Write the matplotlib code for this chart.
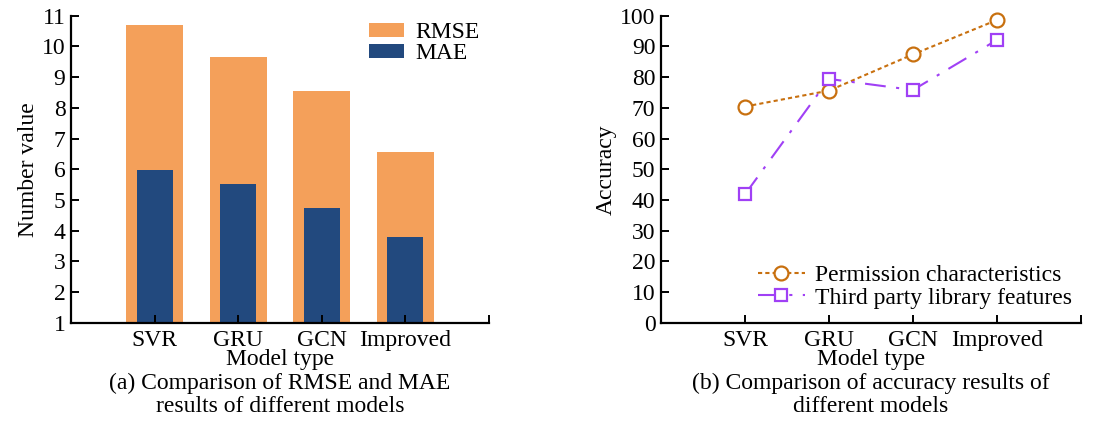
import matplotlib.pyplot as plt

plt.rcParams['font.family'] = ['Liberation Serif', 'DejaVu Serif']
plt.rcParams['font.size'] = 17

models = ['SVR', 'GRU', 'GCN', 'Improved']
rmse = [10.70, 9.65, 8.55, 6.56]
mae = [5.98, 5.51, 4.75, 3.78]
perm_acc = [70.4, 75.6, 87.4, 98.6]
third_acc = [41.8, 79.4, 75.8, 92.1]

fig = plt.figure(figsize=(11.15, 4.22), dpi=100)
ax1 = fig.add_axes([0.0637, 0.2353, 0.3749, 0.7275])
ax2 = fig.add_axes([0.5928, 0.2353, 0.3767, 0.7275])

x = list(range(len(models)))

# (a) bars
ax1.bar(x, [v - 1 for v in rmse], bottom=1, width=0.68, color='#F4A05A', label='RMSE')
ax1.bar(x, [v - 1 for v in mae], bottom=1, width=0.43, color='#22497E', label='MAE')
ax1.set_ylim(1, 11)
ax1.set_yticks(range(1, 12))
ax1.set_ylabel('Number value', labelpad=2)
ax1.legend(loc='upper right', frameon=False, handlelength=1.45, handleheight=0.55,
           borderaxespad=0.0, labelspacing=0.0, handletextpad=0.5,
           bbox_to_anchor=(1.0, 1.01))

# (b) lines
ax2.plot(x, perm_acc, color='#C8700F', linestyle=(0, (2, 1.5)), lw=1.5,
         marker='o', ms=10, mfc='white', mec='#C8700F', mew=1.6, clip_on=False,
         label='Permission characteristics')
ax2.plot(x, third_acc, color='#A040F5', linestyle=(0, (10, 5, 1.5, 5)), lw=1.5,
         marker='s', ms=9, mfc='white', mec='#A040F5', mew=1.6, clip_on=False,
         label='Third party library features')
ax2.set_ylim(0, 100)
ax2.set_yticks(range(0, 101, 10))
ax2.set_ylabel('Accuracy', labelpad=2)
ax2.legend(loc='lower right', frameon=False, handlelength=2.0,
           borderaxespad=0.0, labelspacing=0.05, handletextpad=0.4,
           bbox_to_anchor=(1.0, 0.015))

captions = ['(a) Comparison of RMSE and MAE\nresults of different models',
            '(b) Comparison of accuracy results of\ndifferent models']
for ax, cap in zip([ax1, ax2], captions):
    ax.set_xlim(-1, 4)
    ax.set_xticks([-1] + x + [4])
    ax.set_xticklabels([''] + models + [''])
    ax.set_xlabel('Model type\n' + cap, linespacing=1.15, labelpad=-1)
    for s in ['top', 'right']:
        ax.spines[s].set_visible(False)
    for s in ['left', 'bottom']:
        ax.spines[s].set_linewidth(1.6)
    ax.tick_params(direction='in', length=6, width=1.4, pad=4)
    ax.tick_params(axis='x', pad=5)

fig.savefig('out.png', dpi=100)
